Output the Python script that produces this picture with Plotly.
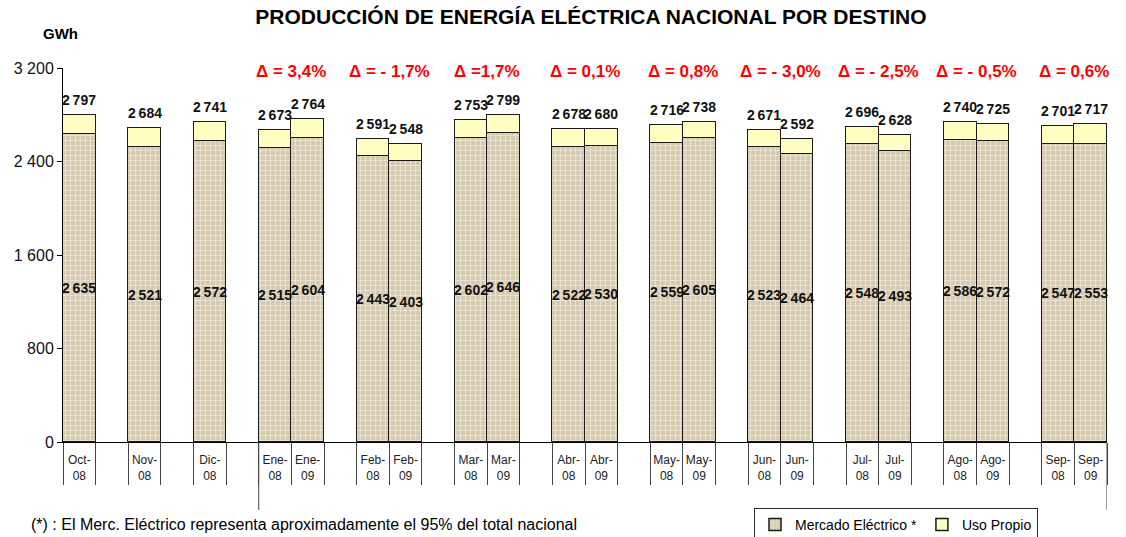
import plotly.graph_objects as go

# ---------------- data ----------------
categories = ["Oct-<br>08", "Nov-<br>08", "Dic-<br>08",
              "Ene-<br>08", "Ene-<br>09", "Feb-<br>08", "Feb-<br>09",
              "Mar-<br>08", "Mar-<br>09", "Abr-<br>08", "Abr-<br>09",
              "May-<br>08", "May-<br>09", "Jun-<br>08", "Jun-<br>09",
              "Jul-<br>08", "Jul-<br>09", "Ago-<br>08", "Ago-<br>09",
              "Sep-<br>08", "Sep-<br>09"]
# slot index of each bar on the x axis (empty slots separate groups)
slots = [0, 2, 4, 6, 7, 9, 10, 12, 13, 15, 16, 18, 19, 21, 22, 24, 25, 27, 28, 30, 31]

mercado = [2635, 2521, 2572, 2515, 2604, 2443, 2403, 2602, 2646, 2522, 2530,
           2559, 2605, 2523, 2464, 2548, 2493, 2586, 2572, 2547, 2553]
total = [2797, 2684, 2741, 2673, 2764, 2591, 2548, 2753, 2799, 2678, 2680,
         2716, 2738, 2671, 2592, 2696, 2628, 2740, 2725, 2701, 2717]
uso_propio = [t - m for t, m in zip(total, mercado)]

delta_pos = [6.5, 9.5, 12.5, 15.5, 18.5, 21.5, 24.5, 27.5, 30.5]
delta_text = ["Δ = 3,4%", "Δ = - 1,7%", "Δ =1,7%", "Δ = 0,1%", "Δ = 0,8%",
              "Δ = - 3,0%", "Δ = - 2,5%", "Δ = - 0,5%", "Δ = 0,6%"]

y_ticks = [0, 800, 1600, 2400, 3200]
y_ticktext = ["0", "800", "1 600", "2 400", "3 200"]

title = "PRODUCCIÓN DE ENERGÍA ELÉCTRICA NACIONAL POR DESTINO"
footnote = "(*) : El Merc. Eléctrico representa aproximadamente el 95% del total nacional"

# ---------------- figure ----------------
W, H = 1126, 537
L, R, T, B = 63, 19, 68, 95
pw, ph = W - L - R, H - T - B


def px_x(x):
    return (x - L) / pw


def px_y(y):
    return (H - B - y) / ph


def fmt(v):
    return f"{v // 1000}\u2009{v % 1000:03d}"


FONT = "Liberation Sans, Arial, sans-serif"

fig = go.Figure()
fig.add_trace(go.Bar(
    x=slots, y=mercado, name="Mercado Eléctrico *", width=1,
    marker=dict(color="#d8cdb5",
                line=dict(color="#1a1a1a", width=1.5),
                pattern=dict(shape="+", fillmode="replace", bgcolor="#d6cab1",
                             fgcolor="#ece5d6", size=5, solidity=0.3)),
))
fig.add_trace(go.Bar(
    x=slots, y=uso_propio, name="Uso Propio", width=1,
    marker=dict(color="#ffffc2", line=dict(color="#1a1a1a", width=1.5)),
))

annotations = []
for s, m, t in zip(slots, mercado, total):
    annotations.append(dict(x=s, y=m / 2, text=f"<b>{fmt(m)}</b>", showarrow=False,
                            font=dict(family=FONT, size=14, color="#111"),
                            xref="x", yref="y"))
    annotations.append(dict(x=s, y=t, text=f"<b>{fmt(t)}</b>", showarrow=False,
                            yanchor="bottom", yshift=5,
                            font=dict(family=FONT, size=14, color="#111"),
                            xref="x", yref="y"))
for p, d in zip(delta_pos, delta_text):
    annotations.append(dict(x=p, y=px_y(71), text=f"<b>{d}</b>", showarrow=False,
                            xref="x", yref="paper", yanchor="middle",
                            font=dict(family=FONT, size=17, color="#ff0000")))

annotations.append(dict(x=px_x(60), y=px_y(33), xref="paper", yref="paper",
                        text="<b>GWh</b>", showarrow=False, xanchor="center",
                        yanchor="middle",
                        font=dict(family=FONT, size=15, color="#000")))
annotations.append(dict(x=px_x(29), y=px_y(524), xref="paper", yref="paper",
                        text=footnote, showarrow=False, xanchor="left",
                        yanchor="middle",
                        font=dict(family=FONT, size=16, color="#000")))

shapes = []
for xb in [5.5, 31.5]:
    shapes.append(dict(type="line", xref="x", yref="paper", x0=xb, x1=xb,
                       y0=0, y1=px_y(510), line=dict(color="#444", width=1)))

fig.update_layout(
    width=W, height=H,
    margin=dict(l=L, r=R, t=T, b=B, autoexpand=False),
    barmode="stack", bargap=0,
    plot_bgcolor="white", paper_bgcolor="white",
    title=dict(text=f"<b>{title}</b>", x=591 / W, xanchor="center",
               y=1 - 17 / H, yanchor="middle",
               font=dict(family=FONT, size=21, color="#000")),
    showlegend=True,
    legend=dict(orientation="h", x=px_x(754), y=px_y(508), xanchor="left", yanchor="top",
                bordercolor="#333", borderwidth=1, bgcolor="white",
                font=dict(family=FONT, size=14, color="#000"),
                itemwidth=30, traceorder="normal"),
    annotations=annotations,
    shapes=shapes,
)

fig.update_xaxes(
    range=[-0.5, 31.5], tickmode="array", tickvals=slots, ticktext=categories,
    ticks="", showgrid=False, zeroline=False, automargin=False,
    showline=True, linecolor="#000", linewidth=1,
    tickfont=dict(family=FONT, size=12, color="#222"),
    ticklabelstandoff=7,
    minor=dict(ticks="outside", ticklen=42, tickcolor="#444", tickwidth=1,
               tick0=-0.5, dtick=1, showgrid=False),
)
fig.update_yaxes(
    range=[0, 3200], tickmode="array", tickvals=y_ticks, ticktext=y_ticktext,
    ticks="outside", ticklen=5, tickcolor="#000", showgrid=False, zeroline=False,
    showline=True, linecolor="#000", linewidth=1, automargin=False,
    tickfont=dict(family=FONT, size=16, color="#111"),
)

fig.write_html("out.html", config={"displayModeBar": False},
               post_script="document.body.style.margin='0px';document.body.style.overflow='hidden';")
